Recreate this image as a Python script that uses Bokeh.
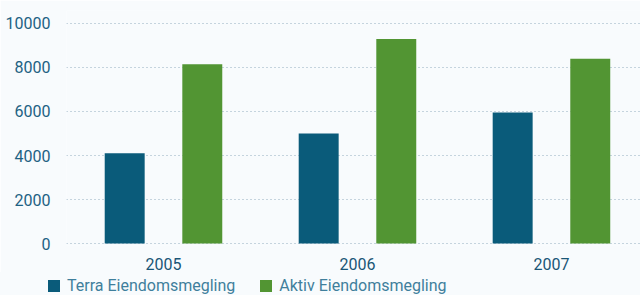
from bokeh.plotting import figure
from bokeh.layouts import column
from bokeh.models import Range1d, FixedTicker, ColumnDataSource, Div
from bokeh.embed import file_html
from bokeh.resources import INLINE

years = ["2005", "2006", "2007"]
terra = [4100, 5000, 5950]
aktiv = [8150, 9300, 8400]
series_names = ["Terra Eiendomsmegling", "Aktiv Eiendomsmegling"]
y_ticks = [0, 2000, 4000, 6000, 8000, 10000]

BG = "#f8fbfd"
BLUE = "#0a5b7a"
GREEN = "#529533"
TXT = "#1e6283"
series_colors = [BLUE, GREEN]

idx = [i + 1 for i in range(len(years))]
src = ColumnDataSource(dict(
    x_t=[i - 0.2 for i in idx], x_a=[i + 0.2 for i in idx],
    terra=terra, aktiv=aktiv))

p = figure(width=640, height=272, output_backend="svg", toolbar_location=None,
           x_range=Range1d(0.5, 3.459), y_range=Range1d(-90, 10590),
           min_border_left=66, min_border_right=0, min_border_top=10, min_border_bottom=27,
           background_fill_color=BG, border_fill_color=BG, outline_line_color=None)

p.vbar(x="x_t", top="terra", width=0.206, bottom=0, source=src,
       fill_color=BLUE, line_color=None)
p.vbar(x="x_a", top="aktiv", width=0.206, bottom=0, source=src,
       fill_color=GREEN, line_color=None)

p.xgrid.grid_line_color = None
p.ygrid.grid_line_color = "#93adbf"
p.ygrid.grid_line_dash = "1 3"
p.ygrid.grid_line_width = 1
p.ygrid.ticker = FixedTicker(ticks=y_ticks)

p.yaxis.ticker = FixedTicker(ticks=y_ticks)
p.yaxis.axis_line_color = None
p.yaxis.major_tick_line_color = None
p.yaxis.minor_tick_line_color = None
p.yaxis.major_label_text_font = "Roboto"
p.yaxis.major_label_text_font_size = "16px"
p.yaxis.major_label_text_color = TXT
p.yaxis.major_label_standoff = 10

p.xaxis.ticker = FixedTicker(ticks=idx)
p.xaxis.major_label_overrides = {i: y for i, y in zip(idx, years)}
p.xaxis.axis_line_color = None
p.xaxis.major_tick_line_color = None
p.xaxis.minor_tick_line_color = None
p.xaxis.major_label_text_font = "Roboto"
p.xaxis.major_label_text_font_size = "16px"
p.xaxis.major_label_text_font_style = "normal"
p.xaxis.major_label_text_color = "#1a5676"
p.xaxis.major_label_standoff = 6

# legend strip below the chart (HTML text)
items_html = "".join(
    f'<span style="display:inline-flex;align-items:center;margin-right:25px;">'
    f'<span style="display:inline-block;width:12px;height:12px;background:{c};margin-right:7px;"></span>'
    f'<span>{name}</span></span>'
    for name, c in zip(series_names, series_colors))
legend_div = Div(
    text=f'<div style="position:absolute;left:48px;top:8px;height:12px;display:flex;'
         f'align-items:center;white-space:nowrap;font-family:Roboto;font-size:16px;'
         f'color:#3f7f9c;line-height:12px;">{items_html}</div>',
    width=640, height=23, margin=0,
    styles={"background-color": BG, "position": "relative"})

layout = column(p, legend_div, spacing=0)
open("out.html", "w").write(file_html(layout, INLINE))
